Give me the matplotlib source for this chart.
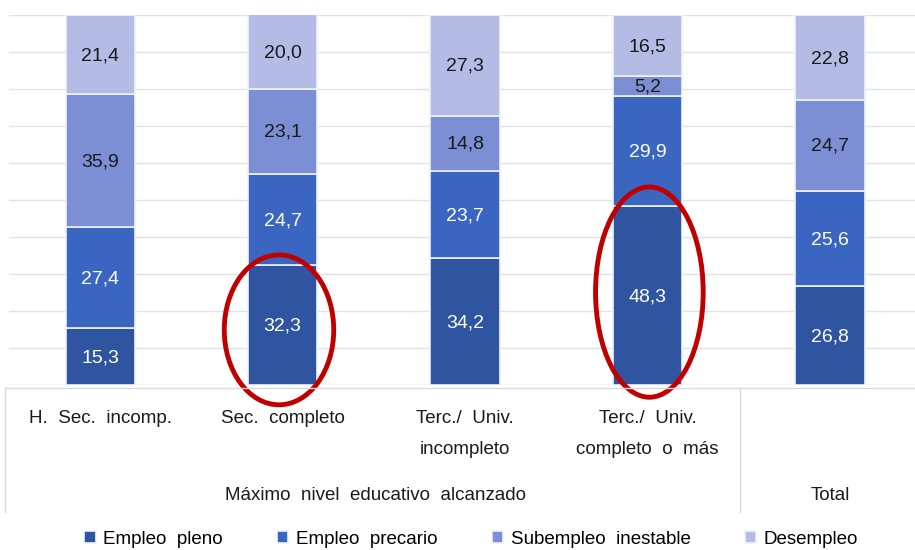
import matplotlib.pyplot as plt
from matplotlib.patches import Ellipse
from matplotlib.lines import Line2D

plt.rcParams['font.family'] = ['Liberation Sans', 'DejaVu Sans']

categorias = ['H.  Sec.  incomp.', 'Sec.  completo', 'Terc./  Univ.\nincompleto',
              'Terc./  Univ.\ncompleto  o  más', '']
series = ['Empleo  pleno', 'Empleo  precario', 'Subempleo  inestable', 'Desempleo']
pleno = [15.3, 32.3, 34.2, 48.3, 26.8]
precario = [27.4, 24.7, 23.7, 29.9, 25.6]
subempleo = [35.9, 23.1, 14.8, 5.2, 24.7]
desempleo = [21.4, 20.0, 27.3, 16.5, 22.8]
colores = ['#2f54a0', '#3a65c0', '#7c8fd4', '#b4bce5']
color_texto = ['white', 'white', '#1a1a1a', '#1a1a1a']

fig = plt.figure(figsize=(9.15, 5.5), dpi=100)
ax = fig.add_axes([0.0098, 0.3, 0.997, 0.673])

x = range(len(pleno))
base = [0] * len(pleno)
for vals, col, tc, nombre in zip([pleno, precario, subempleo, desempleo], colores, color_texto, series):
    bars = ax.bar(x, vals, bottom=base, width=0.38, color=col, edgecolor='#eef2fb',
                  linewidth=1.2, label=nombre, zorder=3)
    for b, v in zip(bars, vals):
        ax.text(b.get_x() + b.get_width() / 2, b.get_y() + v / 2 - 0.3,
                f'{v:.1f}'.replace('.', ','), ha='center', va='center',
                color=tc, fontsize=14, zorder=4)
    base = [a + b for a, b in zip(base, vals)]

ax.set_xlim(-0.5, 4.5)
ax.set_ylim(0, 100)
ax.set_yticks(range(0, 101, 10))
ax.yaxis.grid(True, color='#e2e2e2', linewidth=1.0, zorder=0)
ax.set_xticks([])
ax.tick_params(left=False, labelleft=False)
for s in ax.spines.values():
    s.set_visible(False)

# elipses rojas
for cx, cy, w, h in [(0.98, 14.9, 0.60, 40.5), (3.01, 25.1, 0.59, 56.8)]:
    ax.add_patch(Ellipse((cx, cy), w, h, fill=False, edgecolor='#c00000',
                         linewidth=3.5, zorder=5, clip_on=False))

# etiquetas del eje x en dos niveles
for i, c in enumerate(categorias):
    ax.annotate(c, xy=(i, 0), xycoords='data', xytext=(0, -18), textcoords='offset points',
                ha='center', va='top', fontsize=13.5, linespacing=2.05, color='#1a1a1a')
fig.text(0.41, 1 - 495 / 550, 'Máximo  nivel  educativo  alcanzado', ha='center', va='center',
         fontsize=13.5, color='#1a1a1a')
fig.text(830 / 915, 1 - 495 / 550, 'Total', ha='center', va='center', fontsize=13.5, color='#1a1a1a')

fy = lambda p: 1 - p / 550
fx = lambda p: p / 915
lc = '#d9d9d9'
fig.add_artist(Line2D([fx(5), fx(915)], [fy(388), fy(388)], color=lc, lw=1))
fig.add_artist(Line2D([fx(5), fx(5)], [fy(388), fy(512)], color=lc, lw=1))
fig.add_artist(Line2D([fx(740), fx(740)], [fy(388), fy(512)], color=lc, lw=1))

fig.legend(loc='center', bbox_to_anchor=(0.515, 1 - 539 / 550), ncol=4, frameon=False,
           fontsize=13.5, handlelength=0.6, handleheight=0.6, handletextpad=0.4,
           columnspacing=2.9)

fig.savefig('out.png', dpi=100)
